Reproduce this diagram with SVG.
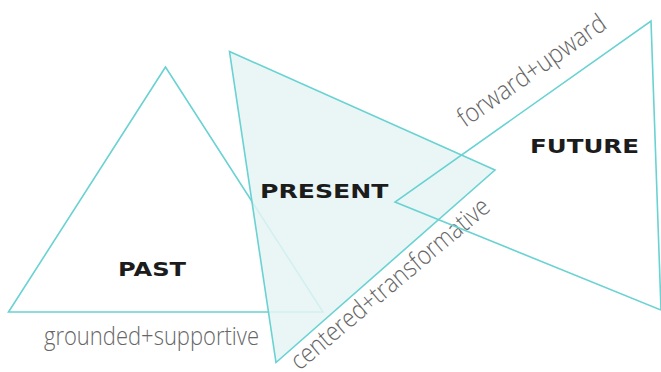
<svg xmlns="http://www.w3.org/2000/svg" width="661" height="372" viewBox="0 0 661 372">
<style>
.tri{fill:none;stroke:#6ad2d2;stroke-width:1.6;stroke-linejoin:miter}
.fillp{fill:#e6f4f4;fill-opacity:0.85;stroke:#6ad2d2;stroke-width:1.6}
.head{font-family:"DejaVu Sans","Liberation Sans",sans-serif;font-weight:bold;fill:#1c1c1c}
.lbl{font-family:"Open Sans","Liberation Sans",sans-serif;font-weight:300;font-size:26px;fill:#666666}
</style>
<rect width="661" height="372" fill="#ffffff"/>
<g id="connectors">
<text class="lbl" x="44" y="345" textLength="215" lengthAdjust="spacingAndGlyphs">grounded+supportive</text>
<text class="lbl" transform="translate(299.5,371) rotate(-40)" x="0" y="0" textLength="251" lengthAdjust="spacingAndGlyphs">centered+transformative</text>
<text class="lbl" transform="translate(465,128) rotate(-35)" x="0" y="0" textLength="175" lengthAdjust="spacingAndGlyphs">forward+upward</text>
</g>
<g id="past">
<polygon class="tri" points="165.5,67 8.5,312 323,312"/>
<text class="head" x="118" y="276" font-size="19" textLength="68" lengthAdjust="spacingAndGlyphs">PAST</text>
</g>
<g id="present">
<polygon class="fillp" points="229.5,51.5 495,170 276,362.5"/>
<text class="head" x="260" y="197.5" font-size="20" textLength="128.5" lengthAdjust="spacingAndGlyphs">PRESENT</text>
</g>
<g id="future">
<polyline class="tri" points="661,310 395,202 651,21 661,310"/>
<text class="head" x="530" y="153" font-size="19" textLength="109" lengthAdjust="spacingAndGlyphs">FUTURE</text>
</g>
</svg>
